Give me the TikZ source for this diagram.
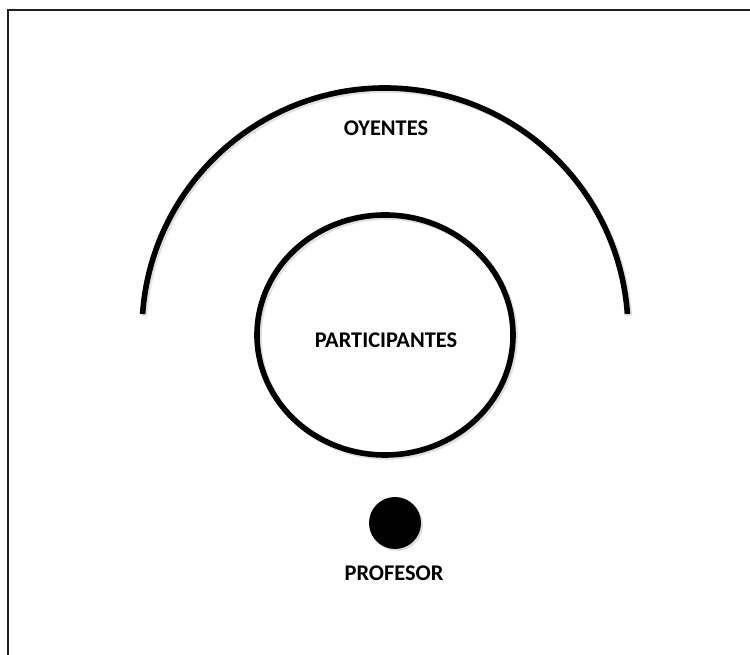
\documentclass[tikz,border=0pt]{standalone}
\usepackage{fontspec}
\setmainfont{Carlito}
\usetikzlibrary{shapes.geometric, positioning}
\definecolor{RingBlack}{RGB}{0, 0, 0}
\definecolor{FrameGray}{RGB}{30, 30, 30}
\definecolor{ShadowGray}{RGB}{170, 170, 170}

\tikzset{
  ring/.style={draw=RingBlack, line width=4.2pt},
  ringshadow/.style={draw=ShadowGray, line width=4.2pt, opacity=0.35},
  lbl/.style={font=\fontsize{16.8}{20}\selectfont\bfseries, text=RingBlack, inner sep=0pt}
}

\begin{document}
\begin{tikzpicture}[x=0.75pt,y=0.75pt]
  \path[use as bounding box] (0,0) rectangle (750,655);

  % frame
  \draw[FrameGray, line width=1.5pt] (8,0) -- (8,645) -- (750,645);

  % outer arc (oyentes)
  \draw[ringshadow] ([shift={(176:243)}]387,322) arc[start angle=176, end angle=4, radius=243];
  \draw[ring] ([shift={(176:243)}]385,324) arc[start angle=176, end angle=4, radius=243];
  \node[lbl] (oyentes) at (386,527) {OYENTES};

  % inner circle (participantes)
  \draw[ringshadow] (387,318) ellipse[x radius=128, y radius=120];
  \node[ring, ellipse, minimum width=192pt, minimum height=180pt, inner sep=0pt] (circulo) at (385,320) {};
  \node[lbl] (participantes) at (386,315) {PARTICIPANTES};

  % profesor
  \fill[ShadowGray, opacity=0.4] (397,130) circle[radius=26];
  \node[circle, fill=RingBlack, minimum size=39pt, inner sep=0pt] (punto) at (395,132) {};
  \node[lbl] (profesor) at (394,82) {PROFESOR};
\end{tikzpicture}
\end{document}
